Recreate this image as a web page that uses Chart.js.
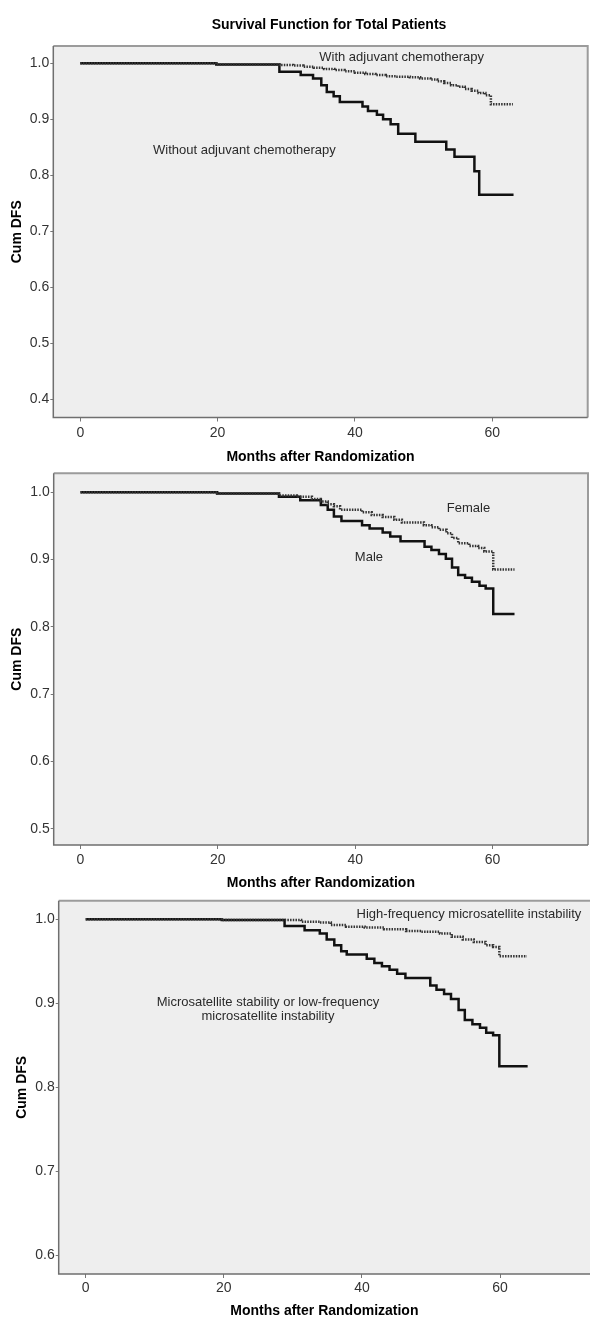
<!DOCTYPE html>
<html>
<head>
<meta charset="utf-8">
<title>Survival Function for Total Patients</title>
<script src="https://cdn.jsdelivr.net/npm/chart.js@4.4.0/dist/chart.umd.min.js"></script>
<style>
    html, body { margin: 0; padding: 0; background: #fff; }
    #wrap { position: relative; width: 590px; height: 1320px; overflow: hidden; }
    canvas { position: absolute; left: 0; }
</style>
</head>
<body>
<div id="wrap">
    <canvas id="c1" width="590" height="470" style="top:0px"></canvas>
    <canvas id="c2" width="590" height="446" style="top:450px"></canvas>
    <canvas id="c3" width="590" height="444" style="top:876px"></canvas>
</div>
<script>
"use strict";

// ===== DATA =====
const xTicks = [0, 20, 40, 60];

// Panel 1 - total patients
const p1YTicks = [0.4, 0.5, 0.6, 0.7, 0.8, 0.9, 1.0];
const p1WithMonths = [0, 19.8, 29.0, 31.0, 32.5, 34.0, 35.5, 37.0, 38.5, 40.0, 41.5, 43.0, 44.5, 46.0, 48.0, 49.5, 51.0, 52.0, 53.0, 54.0, 55.0, 56.0, 57.0, 58.0, 59.0, 59.8, 63.0];
const p1WithDfs = [1.0, 0.998, 0.997, 0.996, 0.994, 0.992, 0.990, 0.988, 0.986, 0.983, 0.981, 0.979, 0.977, 0.976, 0.975, 0.973, 0.971, 0.968, 0.965, 0.961, 0.958, 0.954, 0.951, 0.947, 0.943, 0.927, 0.927];
const p1WithoutMonths = [0, 19.8, 29.0, 32.1, 33.9, 35.1, 35.9, 36.9, 37.8, 41.1, 41.9, 43.2, 44.1, 45.2, 46.3, 48.8, 53.3, 54.5, 57.4, 58.1, 63.1];
const p1WithoutDfs = [1.0, 0.998, 0.985, 0.979, 0.973, 0.961, 0.949, 0.941, 0.931, 0.923, 0.915, 0.908, 0.900, 0.891, 0.874, 0.860, 0.846, 0.833, 0.807, 0.765, 0.765];

// Panel 2 - by sex
const p2YTicks = [0.5, 0.6, 0.7, 0.8, 0.9, 1.0];
const p2FemaleMonths = [0, 19.9, 28.9, 31.5, 33.7, 35.0, 36.0, 36.9, 37.8, 41.0, 42.4, 44.0, 45.7, 46.8, 50.0, 51.1, 52.2, 53.3, 54.1, 55.0, 56.6, 57.9, 58.8, 60.1, 63.2];
const p2FemaleDfs = [1.0, 0.998, 0.995, 0.993, 0.990, 0.986, 0.982, 0.979, 0.974, 0.970, 0.966, 0.963, 0.959, 0.955, 0.951, 0.948, 0.944, 0.939, 0.932, 0.924, 0.920, 0.917, 0.912, 0.885, 0.885];
const p2MaleMonths = [0, 19.9, 28.9, 32.0, 35.0, 36.0, 36.9, 38.0, 41.0, 42.1, 44.0, 45.1, 46.6, 50.1, 51.1, 52.2, 53.2, 54.1, 55.0, 56.0, 57.0, 58.1, 59.0, 60.1, 63.2];
const p2MaleDfs = [1.0, 0.998, 0.993, 0.988, 0.981, 0.974, 0.964, 0.957, 0.951, 0.946, 0.940, 0.934, 0.927, 0.919, 0.914, 0.908, 0.901, 0.888, 0.877, 0.873, 0.867, 0.861, 0.857, 0.819, 0.819];

// Panel 3 - by microsatellite status
const p3YTicks = [0.6, 0.7, 0.8, 0.9, 1.0];
const p3HighMonths = [0, 19.7, 31.2, 33.9, 35.5, 37.7, 40.4, 43.2, 46.4, 48.6, 51.3, 53.0, 54.6, 56.2, 57.9, 59.0, 59.9, 63.9];
const p3HighDfs = [1.0, 0.999, 0.997, 0.996, 0.993, 0.991, 0.990, 0.988, 0.986, 0.985, 0.983, 0.979, 0.976, 0.973, 0.969, 0.967, 0.956, 0.956];
const p3StableMonths = [0, 19.7, 28.8, 31.7, 33.9, 34.9, 36.0, 37.0, 37.8, 40.7, 41.8, 42.9, 44.0, 45.1, 46.3, 49.9, 50.8, 51.9, 52.9, 54.0, 54.9, 56.0, 57.1, 58.0, 59.0, 59.9, 64.0];
const p3StableDfs = [1.0, 0.999, 0.992, 0.987, 0.983, 0.976, 0.969, 0.962, 0.958, 0.953, 0.948, 0.944, 0.940, 0.935, 0.930, 0.921, 0.916, 0.911, 0.905, 0.892, 0.880, 0.875, 0.871, 0.865, 0.862, 0.825, 0.825];

const FONT = '"Liberation Sans", Arial, sans-serif';

function toPoints(months, dfs) {
    return months.map((m, i) => ({ x: m, y: dfs[i] }));
}

// grey plot box, frame, curve labels and the main title
const spssPlot = {
    id: 'spssPlot',
    beforeDraw(chart) {
        const { ctx, chartArea: a } = chart;
        ctx.save();
        ctx.fillStyle = '#eeeeee';
        ctx.fillRect(a.left, a.top, a.right - a.left, a.bottom - a.top);
        ctx.restore();
    },
    afterDatasetsDraw(chart, args, opts) {
        const { ctx, chartArea: a, scales } = chart;
        ctx.save();
        ctx.lineWidth = 2;
        ctx.strokeStyle = '#9b9b9b';
        ctx.beginPath();
        ctx.moveTo(a.left, a.top);
        ctx.lineTo(a.right, a.top);
        if (opts.rightEdge) ctx.lineTo(a.right, a.bottom);
        ctx.stroke();

        ctx.lineWidth = 1.5;
        ctx.strokeStyle = '#6f6f6f';
        ctx.beginPath();
        ctx.moveTo(a.left, a.top);
        ctx.lineTo(a.left, a.bottom);
        ctx.lineTo(a.right, a.bottom);
        ctx.stroke();

        ctx.fillStyle = '#2a2a2a';
        ctx.font = '13px ' + FONT;
        ctx.textAlign = 'center';
        ctx.textBaseline = 'middle';
        (opts.labels || []).forEach(l => {
            const px = scales.x.getPixelForValue(l.x);
            const py = scales.y.getPixelForValue(l.y);
            l.text.forEach((t, i) => ctx.fillText(t, px, py + i * 14));
        });

        if (opts.title) {
            ctx.fillStyle = '#000';
            ctx.font = 'bold 14px ' + FONT;
            ctx.fillText(opts.title, opts.titleX, opts.titleY);
        }
        ctx.restore();
    }
};

function makePanel(canvasId, setup) {
    const ctx = document.getElementById(canvasId);
    const datasets = setup.curves.map(c => ({
        data: toPoints(c.months, c.dfs),
        stepped: true,
        borderColor: c.dotted ? '#333' : '#111',
        borderWidth: 2.5,
        borderDash: c.dotted ? [1.5, 1.2] : [],
        pointRadius: 0,
        fill: false
    }));

    return new Chart(ctx, {
        type: 'line',
        data: { datasets },
        plugins: [spssPlot],
        options: {
            responsive: false,
            animation: false,
            events: [],
            layout: { padding: setup.padding },
            plugins: {
                legend: { display: false },
                tooltip: { enabled: false },
                title: { display: false },
                spssPlot: {
                    labels: setup.labels,
                    rightEdge: setup.rightEdge,
                    title: setup.title,
                    titleX: setup.titleX,
                    titleY: setup.titleY
                }
            },
            scales: {
                x: {
                    type: 'linear',
                    min: setup.xMin,
                    max: setup.xMax,
                    afterBuildTicks: s => { s.ticks = xTicks.map(v => ({ value: v })); },
                    afterFit: s => { s.height = setup.xAxisHeight; },
                    grid: { drawOnChartArea: false, drawTicks: true, tickLength: 4, color: '#777' },
                    border: { display: false },
                    ticks: {
                        color: '#333',
                        font: { size: 14, family: FONT },
                        padding: setup.xTickPad,
                        maxRotation: 0,
                        autoSkip: false,
                        callback: v => String(v)
                    },
                    title: {
                        display: true,
                        text: 'Months after Randomization',
                        color: '#000',
                        font: { size: 14, weight: 'bold', family: FONT },
                        padding: { top: 0, bottom: setup.xTitlePad }
                    }
                },
                y: {
                    type: 'linear',
                    min: setup.yMin,
                    max: setup.yMax,
                    afterBuildTicks: s => { s.ticks = setup.yTicks.map(v => ({ value: v })); },
                    afterFit: s => { s.width = setup.yAxisWidth; },
                    grid: { drawOnChartArea: false, drawTicks: true, tickLength: 3, color: '#777' },
                    border: { display: false },
                    ticks: {
                        color: '#333',
                        font: { size: 14, family: FONT },
                        padding: 1,
                        callback: v => Number(v).toFixed(1)
                    },
                    title: {
                        display: true,
                        text: 'Cum DFS',
                        color: '#000',
                        font: { size: 14, weight: 'bold', family: FONT },
                        padding: { top: setup.yTitlePad, bottom: 0 }
                    }
                }
            }
        }
    });
}

document.addEventListener('DOMContentLoaded', () => {
    makePanel('c1', {
        xMin: -3.93, xMax: 73.9, yMin: 0.367, yMax: 1.031,
        yTicks: p1YTicks,
        padding: { top: 46, left: 0, right: 2.3, bottom: 0 },
        yAxisWidth: 53.3, xAxisHeight: 52.5,
        xTickPad: 2.8, xTitlePad: 4.9, yTitlePad: 8.6,
        rightEdge: true,
        title: 'Survival Function for Total Patients', titleX: 329, titleY: 25,
        curves: [
            { months: p1WithMonths, dfs: p1WithDfs, dotted: true },
            { months: p1WithoutMonths, dfs: p1WithoutDfs, dotted: false }
        ],
        labels: [
            { text: ['With adjuvant chemotherapy'], x: 46.8, y: 1.0104 },
            { text: ['Without adjuvant chemotherapy'], x: 23.9, y: 0.845 }
        ]
    });

    makePanel('c2', {
        xMin: -3.9, xMax: 73.9, yMin: 0.476, yMax: 1.028,
        yTicks: p2YTicks,
        padding: { top: 23.3, left: 0, right: 2, bottom: 0 },
        yAxisWidth: 53.7, xAxisHeight: 51,
        xTickPad: 2.6, xTitlePad: 4.3, yTitlePad: 8.6,
        rightEdge: true,
        curves: [
            { months: p2FemaleMonths, dfs: p2FemaleDfs, dotted: true },
            { months: p2MaleMonths, dfs: p2MaleDfs, dotted: false }
        ],
        labels: [
            { text: ['Female'], x: 56.5, y: 0.976 },
            { text: ['Male'], x: 42.0, y: 0.903 }
        ]
    });

    makePanel('c3', {
        xMin: -3.91, xMax: 73.03, yMin: 0.578, yMax: 1.022,
        yTicks: p3YTicks,
        padding: { top: 24.7, left: 0, right: 0, bottom: 0 },
        yAxisWidth: 58.7, xAxisHeight: 46,
        xTickPad: 1.9, xTitlePad: 0, yTitlePad: 14.2,
        rightEdge: false,
        curves: [
            { months: p3HighMonths, dfs: p3HighDfs, dotted: true },
            { months: p3StableMonths, dfs: p3StableDfs, dotted: false }
        ],
        labels: [
            { text: ['High-frequency microsatellite instability'], x: 55.5, y: 1.006 },
            { text: ['Microsatellite stability or low-frequency', 'microsatellite instability'], x: 26.4, y: 0.901 }
        ]
    });
});
</script>
</body>
</html>
